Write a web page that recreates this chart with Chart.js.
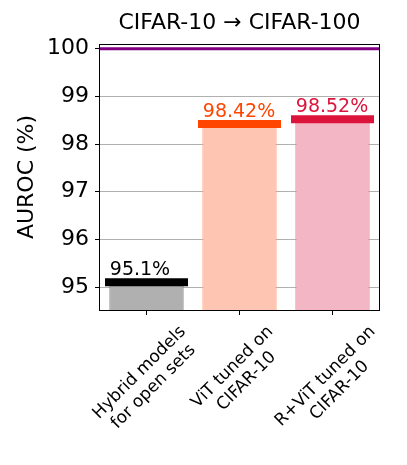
<!DOCTYPE html>
<html>
<head>
<meta charset="utf-8">
<script src="https://cdn.jsdelivr.net/npm/chart.js@4"></script>
<style>
html,body{margin:0;padding:0;background:#fff}
#wrap{width:407px;height:465px}
</style>
</head>
<body>
<div id="wrap"><canvas id="chart" width="407" height="465"></canvas></div>
<script>
const categories=[['Hybrid models','for open sets'],['ViT tuned on','CIFAR-10'],['R+ViT tuned on','CIFAR-10']];
const aurocValues=[95.1,98.42,98.52];
const valueLabels=['95.1%','98.42%','98.52%'];
const yTicks=[95,96,97,98,99,100];
const referenceLine=100;

const barFill=['#b0b0b0','#fec6b2','#f3b6c4'];
const barEdge=['#8a8a8a','#ffa985','#e8879f'];
const capColor=['#000000','#ff4500','#dc143c'];
const FONT='DejaVu Sans';

// frame, reference line at 100, value labels and rotated x labels
const extras={
  id:'extras',
  afterDatasetsDraw(chart){
    const ctx=chart.ctx, a=chart.chartArea, y=chart.scales.y, x=chart.scales.x;
    const bars=chart.getDatasetMeta(0).data;
    ctx.save();
    // value labels, left aligned on the bar
    ctx.font='19px "'+FONT+'"';ctx.textAlign='left';ctx.textBaseline='alphabetic';
    bars.forEach((b,i)=>{
      const left=b.x-b.width/2;
      ctx.fillStyle=capColor[i];
      ctx.fillText(valueLabels[i],left+0.5,y.getPixelForValue(aurocValues[i])-7);
    });
    // purple line
    const yr=y.getPixelForValue(referenceLine);
    ctx.strokeStyle='#800080';ctx.lineWidth=3;
    ctx.beginPath();ctx.moveTo(a.left,yr);ctx.lineTo(a.right,yr);ctx.stroke();
    // frame
    ctx.strokeStyle='#000';ctx.lineWidth=1;
    ctx.strokeRect(Math.round(a.left)-0.5,Math.round(a.top)+0.5,Math.round(a.right-a.left)+1,Math.round(a.bottom-a.top));
    // x labels, rotated 45 deg, centred block
    ctx.font='17px "'+FONT+'"';ctx.fillStyle='#000';ctx.textAlign='center';ctx.textBaseline='middle';
    const lh=20;
    categories.forEach((lines,i)=>{
      const w=Math.max(...lines.map(l=>ctx.measureText(l).width));
      const h=lines.length*lh;
      const cx=x.getPixelForTick(i);
      const cy=a.bottom+12+(w+h)/(2*Math.SQRT2);
      ctx.save();ctx.translate(cx,cy);ctx.rotate(-Math.PI/4);
      lines.forEach((l,k)=>ctx.fillText(l,0,(k-(lines.length-1)/2)*lh));
      ctx.restore();
    });
    ctx.restore();
  }
};

function noPad(s){s.paddingTop=0;s.paddingBottom=0;s.paddingLeft=0;s.paddingRight=0;}

new Chart(document.getElementById('chart'),{
  type:'bar',
  data:{
    labels:categories,
    datasets:[
      {data:aurocValues,backgroundColor:barFill,borderColor:barEdge,borderWidth:1.3,borderSkipped:'start',
       barPercentage:0.8,categoryPercentage:1.0,order:2},
      {type:'line',data:aurocValues,showLine:false,pointStyle:'line',pointRadius:41.5,pointHoverRadius:41.5,
       pointBorderWidth:8,pointBorderColor:capColor,pointBackgroundColor:capColor,order:1,clip:false}
    ]
  },
  options:{
    responsive:false,animation:false,
    layout:{autoPadding:false,padding:{right:28,left:0,bottom:0,top:0}},
    plugins:{
      legend:{display:false},tooltip:{enabled:false},
      title:{display:true,text:'CIFAR-10 \u2192 CIFAR-100',fullSize:false,color:'#000',
        font:{family:FONT,size:22,weight:'normal'},padding:{top:10,bottom:7.6}}
    },
    scales:{
      x:{
        offset:true,
        grid:{display:true,offset:false,drawOnChartArea:false,drawTicks:true,tickLength:5,tickColor:'#000'},
        border:{display:false},
        ticks:{display:false},
        afterFit(s){s.height=155;noPad(s);}
      },
      y:{
        min:94.52,max:100.1,
        afterBuildTicks(s){s.ticks=yTicks.map(v=>({value:v}));},
        grid:{color:'#b0b0b0',lineWidth:1,drawTicks:true,tickLength:5,tickColor:'#000'},
        border:{display:false},
        ticks:{color:'#000',padding:6,font:{family:FONT,size:22},callback:v=>String(v)},
        title:{display:true,text:'AUROC (%)',color:'#000',font:{family:FONT,size:22},padding:{top:14,bottom:0}},
        afterFit(s){s.width=100;noPad(s);}
      }
    }
  },
  plugins:[extras]
});
</script>
</body>
</html>
